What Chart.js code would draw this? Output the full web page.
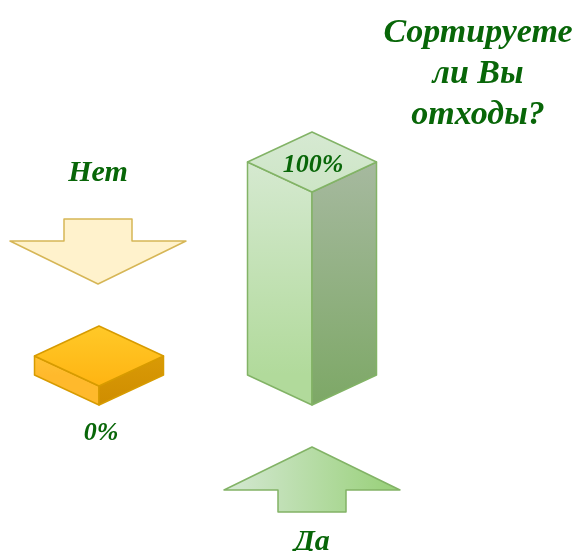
<!DOCTYPE html>
<html>
<head>
<meta charset="utf-8">
<script src="https://cdn.jsdelivr.net/npm/chart.js@4.4.1/dist/chart.umd.min.js"></script>
<style>
  html, body { margin: 0; padding: 0; background: #ffffff; }
  canvas { display: block; }
</style>
</head>
<body>
<canvas id="sortChart" width="576" height="551"></canvas>
<script>
const categories = ["Нет", "Да"];
const answer_share = [0, 100];
const value_labels = ["0%", "100%"];
const title_lines = ["Сортируете", "ли Вы", "отходы?"];

const text_colour = "#086608";
const text_font = "'Liberation Serif', 'Times New Roman', serif";

// colours per bar: top face, left face (top, bottom), right face (top, bottom), stroke
const box_styles = [
  { top: ["#ffc928", "#ffb412"], left: ["#ffc235", "#ffb92c"], right: ["#d99a06", "#cf8d00"], stroke: "#d79b00" },
  { top: ["#d6e9d2", "#cde5c6"], left: ["#d5e9d0", "#b1da9b"], right: ["#a6b99f", "#7da866"], stroke: "#82b366" }
];

function vGrad(ctx, y0, y1, c0, c1) {
  const g = ctx.createLinearGradient(0, y0, 0, y1);
  g.addColorStop(0, c0);
  g.addColorStop(1, c1);
  return g;
}

function poly(ctx, pts, fill, stroke) {
  ctx.beginPath();
  ctx.moveTo(pts[0][0], pts[0][1]);
  for (let i = 1; i < pts.length; i++) ctx.lineTo(pts[i][0], pts[i][1]);
  ctx.closePath();
  ctx.fillStyle = fill;
  ctx.fill();
  ctx.strokeStyle = stroke;
  ctx.stroke();
}

// block arrow, tip at (x, tipY), dir = 1 points down, -1 points up
function blockArrow(ctx, x, tipY, dir, fill, stroke) {
  const headHalf = 88, headH = 43, shaftHalf = 34, shaftH = 22;
  const shoulder = tipY - dir * headH;
  const end = shoulder - dir * shaftH;
  poly(ctx, [
    [x, tipY], [x + headHalf, shoulder], [x + shaftHalf, shoulder],
    [x + shaftHalf, end], [x - shaftHalf, end], [x - shaftHalf, shoulder],
    [x - headHalf, shoulder]
  ], fill, stroke);
}

const box3dPlugin = {
  id: "box3d",
  afterDatasetsDraw(chart) {
    const ctx = chart.ctx;
    const meta = chart.getDatasetMeta(0);
    const minDepth = 19;
    ctx.save();
    ctx.lineWidth = 1.5;
    ctx.lineJoin = "round";
    meta.data.forEach((bar, i) => {
      const p = bar.getProps(["x", "y", "base", "width"], true);
      const st = box_styles[i];
      const x = p.x, base = p.base;
      const y = Math.min(p.y, base - minDepth);
      const hw = p.width / 2, dy = hw * 0.465;

      poly(ctx, [[x - hw, y - dy], [x, y], [x, base], [x - hw, base - dy]],
        vGrad(ctx, y - dy, base - dy, st.left[0], st.left[1]), st.stroke);
      poly(ctx, [[x, y], [x + hw, y - dy], [x + hw, base - dy], [x, base]],
        vGrad(ctx, y - dy, base, st.right[0], st.right[1]), st.stroke);
      poly(ctx, [[x - hw, y - dy], [x, y - 2 * dy], [x + hw, y - dy], [x, y]],
        vGrad(ctx, y - 2 * dy, y, st.top[0], st.top[1]), st.stroke);

      ctx.fillStyle = text_colour;
      ctx.textAlign = "center";
      ctx.textBaseline = "middle";
      ctx.font = "italic bold 26px " + text_font;
      if (answer_share[i] > 0) {
        ctx.fillText(value_labels[i], x + 1, y - 2 * dy + 33);
      } else {
        ctx.fillText(value_labels[i], x + 2, base + 28);
      }

      ctx.lineWidth = 1.5;
      ctx.font = "italic bold 30px " + text_font;
      if (i === 0) {
        blockArrow(ctx, x - 1, y - 2 * dy - 42, 1, "#fff2cc", "#d6b656");
        ctx.fillStyle = text_colour;
        ctx.fillText(categories[i], x - 1, y - 2 * dy - 153);
      } else {
        const g = ctx.createLinearGradient(x - 88, 0, x + 88, 0);
        g.addColorStop(0, "#d5e8d4");
        g.addColorStop(1, "#97d077");
        blockArrow(ctx, x, base + 42, -1, g, "#82b366");
        ctx.fillStyle = text_colour;
        ctx.fillText(categories[i], x, base + 137);
      }
    });

    ctx.font = "italic bold 34px " + text_font;
    ctx.fillStyle = text_colour;
    title_lines.forEach((line, k) => {
      ctx.fillText(line, 478, 33 + k * 41);
    });
    ctx.restore();
  }
};

const ctx = document.getElementById("sortChart").getContext("2d");
const sort_chart = new Chart(ctx, {
  type: "bar",
  data: {
    labels: categories,
    datasets: [{
      data: answer_share,
      backgroundColor: "rgba(0,0,0,0)",
      borderWidth: 0,
      barThickness: 129,
      clip: false
    }]
  },
  options: {
    responsive: false,
    animation: false,
    layout: { padding: { left: 99, right: 264, top: 192, bottom: 146 } },
    plugins: {
      legend: { display: false },
      tooltip: { enabled: false }
    },
    scales: {
      x: { display: false, offset: false },
      y: { display: false, min: 0, max: 100 }
    }
  },
  plugins: [box3dPlugin]
});
</script>
</body>
</html>
